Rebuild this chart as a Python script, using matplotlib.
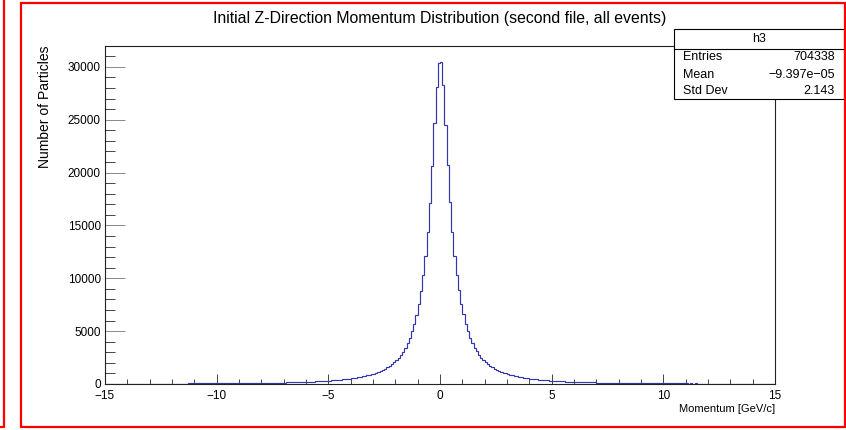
import numpy as np
import matplotlib
matplotlib.use('Agg')
import matplotlib.pyplot as plt
from matplotlib.patches import Rectangle
from matplotlib.lines import Line2D
from matplotlib.ticker import MultipleLocator

# ---------------- data ----------------
x_range = (-15, 15)
n_bins = 300

# bin contents, bins from -15 to 0 (ascending)
counts_neg = [
    0, 0, 0, 0, 0, 0, 0, 0, 0, 0,
    0, 0, 0, 0, 0, 0, 0, 0, 0, 0,
    0, 0, 0, 0, 0, 0, 0,
    35, 38, 40,
    42, 44, 43, 46, 45, 47, 46, 49, 48, 51,
    50, 54, 51, 57, 53, 59, 55, 61, 58, 63,
    60, 67, 63, 71, 66, 74, 69, 77, 73, 80,
    76, 84, 80, 89, 85, 93, 90, 98, 95, 103,
    100, 109, 106, 116, 113, 124, 120, 131, 128, 139,
    140, 149, 150, 160, 161, 172, 174, 186, 188, 198,
    204, 213, 221, 232, 241, 253, 263, 276, 289, 302,
    315, 332, 348, 366, 384, 404, 426, 448, 473, 498,
    525, 558, 590, 628, 665, 710, 755, 808, 862, 925,
    990, 1070, 1150, 1245, 1345, 1455, 1585, 1725, 1880, 2060,
    2250, 2490, 2760, 3060, 3420, 3860, 4370, 4980, 5700, 6550,
    7580, 8830, 10300, 12100, 14350, 17100, 20600, 24700, 28100, 30380,
]

# bin contents, bins from 0 to 15 (ascending)
counts_pos = [
    30450, 28300, 24500, 20700, 17200, 14400, 12150, 10350, 8850, 7600,
    6580, 5720, 5000, 4390, 3880, 3440, 3080, 2770, 2500, 2270,
    2070, 1890, 1730, 1590, 1465, 1350, 1250, 1160, 1075, 1000,
    930, 868, 812, 760, 713, 670, 630, 594, 561, 530,
    502, 476, 451, 428, 407, 387, 368, 351, 334, 319,
    305, 291, 278, 266, 255, 244, 234, 224, 215, 207,
    199, 191, 184, 177, 170, 164, 158, 153, 147, 142,
    137, 129, 133, 121, 126, 114, 118, 106, 111, 101,
    101, 95, 98, 90, 93, 86, 88, 81, 84, 77,
    78, 73, 76, 69, 72, 66, 68, 63, 65, 60,
    62, 58, 60, 55, 57, 53, 55, 51, 53, 49,
    51, 47, 49, 46, 48, 44, 46, 43, 0, 0,
    0, 0, 0, 0, 0, 0, 0, 0, 0, 0,
    0, 0, 0, 0, 0, 0, 0, 0, 0, 0,
    0, 0, 0, 0, 0, 0, 0, 0, 0, 0,
]

title = "Initial Z-Direction Momentum Distribution (second file, all events)"
x_label = "Momentum [GeV/c]"
y_label = "Number of Particles"
stats_name = "h3"
stats_labels = ["Entries", "Mean", "Std Dev"]
stats_values = ["704338", "\u22129.397e\u221205", "2.143"]

x_major, x_minor = 5, 1
y_major, y_minor = 5000, 1000

# ---------------- figure ----------------
W, H = 846, 430
FONT = ['Liberation Sans', 'DejaVu Sans']
plt.rcParams['font.family'] = FONT

def fx(px):
    return px / W

def fy(py):
    return 1 - py / H

fig = plt.figure(figsize=(W / 100, H / 100), dpi=100)
fig.patch.set_facecolor('white')

ax = fig.add_axes([fx(105), fy(384), (775 - 105) / W, (384 - 46) / H])

counts = np.array(counts_neg + counts_pos, dtype=float)
edges = np.linspace(x_range[0], x_range[1], n_bins + 1)
ax.stairs(counts, edges, color='#3535b0', lw=0.85)

ax.set_xlim(*x_range)
ax.set_ylim(0, 1.05 * counts.max())

ax.xaxis.set_major_locator(MultipleLocator(x_major))
ax.xaxis.set_minor_locator(MultipleLocator(x_minor))
ax.yaxis.set_major_locator(MultipleLocator(y_major))
ax.yaxis.set_minor_locator(MultipleLocator(y_minor))

px2pt = 0.72
ax.tick_params(axis='x', which='major', direction='in', length=10 * px2pt,
               width=0.7, color='#444444', labelsize=8.5, pad=4.5, top=False)
ax.tick_params(axis='x', which='minor', direction='in', length=5 * px2pt,
               width=0.7, color='#444444', top=False)
ax.tick_params(axis='y', which='major', direction='in', length=20 * px2pt,
               width=0.7, color='#888888', labelsize=8.5, pad=3, right=False)
ax.tick_params(axis='y', which='minor', direction='in', length=10 * px2pt,
               width=0.7, color='#444444', right=False)
for s in ax.spines.values():
    s.set_linewidth(0.8)
    s.set_color('#222222')

# title and axis labels
fig.text(fx(440), fy(18), title, ha='center', va='center', fontsize=11.4)
fig.text(fx(45), fy(46), y_label, ha='center', va='top', rotation=90, fontsize=10)
fig.text(fx(775), fy(409), x_label, ha='right', va='center', fontsize=8)

# stats box
bx0, bx1, by0, by1 = 674, 844, 29, 99
fig.add_artist(Rectangle((fx(bx0), fy(by1)), (bx1 - bx0) / W, (by1 - by0) / H,
                         transform=fig.transFigure, facecolor='white',
                         edgecolor='black', lw=0.8, zorder=10))
fig.add_artist(Line2D([fx(bx0), fx(bx1)], [fy(48.5), fy(48.5)],
                      transform=fig.transFigure, color='black', lw=0.8, zorder=11))
fig.text(fx((bx0 + bx1) / 2), fy(38.5), stats_name, ha='center', va='center',
         fontsize=9, zorder=12)
row_y = [57.5, 75, 91.5]
for lab, val, ry in zip(stats_labels, stats_values, row_y):
    fig.text(fx(683), fy(ry), lab, ha='left', va='center', fontsize=9, zorder=12)
    fig.text(fx(835), fy(ry), val, ha='right', va='center', fontsize=9, zorder=12)

# red pad borders
fig.add_artist(Rectangle((fx(21), fy(427)), (845 - 21) / W, (427 - 3) / H,
                         transform=fig.transFigure, facecolor='none',
                         edgecolor='#ff0000', lw=1.6, zorder=20))
fig.add_artist(Line2D([fx(3.5), fx(3.5), fx(0)], [fy(0), fy(427), fy(427)],
                      transform=fig.transFigure, color='#ff0000', lw=1.6, zorder=20))

fig.savefig('out.png', dpi=100)
